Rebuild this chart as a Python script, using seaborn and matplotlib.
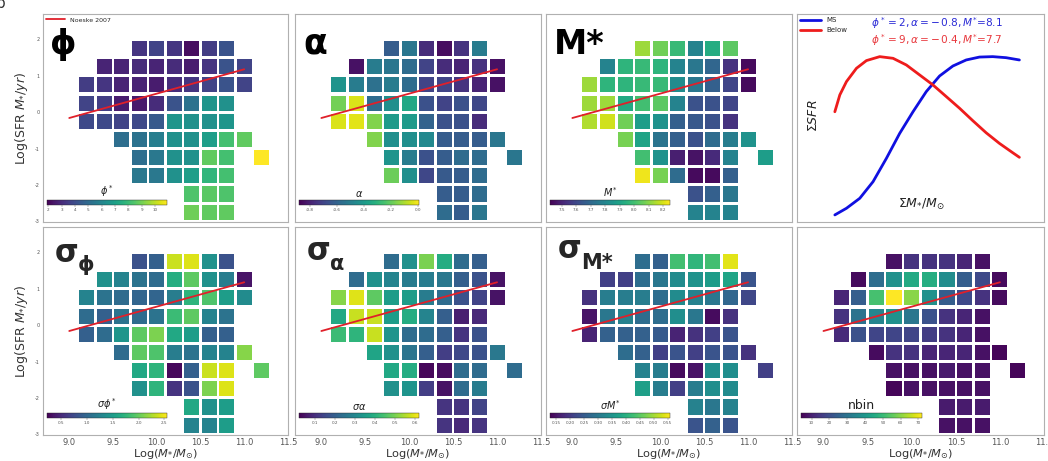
import numpy as np
import pandas as pd
import matplotlib
matplotlib.use("Agg")
import matplotlib.pyplot as plt
import seaborn as sns
from matplotlib.cm import ScalarMappable
from matplotlib.colors import Normalize

# ---------------- data ----------------
mass_bins = [9.2, 9.4, 9.6, 9.8, 10.0, 10.2, 10.4, 10.6, 10.8, 11.0, 11.2]
sfr_bins = [1.75, 1.25, 0.75, 0.25, -0.25, -0.75, -1.25, -1.75, -2.25, -2.75]
row_cols = [
    [3, 4, 5, 6, 7, 8],
    [1, 2, 3, 4, 5, 6, 7, 8, 9],
    [0, 1, 2, 3, 4, 5, 6, 7, 8, 9],
    [0, 1, 2, 3, 4, 5, 6, 7, 8],
    [0, 1, 2, 3, 4, 5, 6, 7, 8],
    [2, 3, 4, 5, 6, 7, 8, 9],
    [3, 4, 5, 6, 7, 8, 10],
    [3, 4, 5, 6, 7, 8],
    [6, 7, 8],
    [6, 7, 8],
]

phi_vals = [
    [3.3, 3.7, 3.3, 2.2, 3.5, 4.2],
    [2.8, 2.8, 3.0, 2.8, 3.0, 2.6, 3.3, 4.2, 3.7],
    [3.5, 3.3, 2.8, 2.8, 2.6, 3.0, 3.3, 3.7, 4.2, 3.7],
    [3.7, 3.5, 2.6, 2.5, 3.0, 4.2, 5.3, 6.6, 6.4],
    [3.9, 3.9, 3.7, 3.9, 4.4, 6.6, 6.4, 6.4, 6.6],
    [5.1, 5.3, 5.7, 6.4, 6.4, 6.9, 8.2, 8.7],
    [5.1, 5.5, 6.4, 6.4, 8.7, 8.2, 10.9],
    [5.5, 5.5, 6.4, 6.9, 7.8, 8.2],
    [8.4, 8.6, 8.4],
    [8.9, 8.7, 8.7],
]
alpha_vals = [
    [-0.62, -0.53, -0.77, -0.85, -0.75, -0.51],
    [-0.84, -0.51, -0.53, -0.57, -0.70, -0.77, -0.79, -0.75, -0.84],
    [-0.42, -0.51, -0.55, -0.51, -0.57, -0.70, -0.70, -0.75, -0.79, -0.84],
    [-0.18, -0.04, -0.57, -0.44, -0.35, -0.66, -0.70, -0.66, -0.69],
    [-0.04, -0.03, -0.16, -0.40, -0.40, -0.60, -0.66, -0.66, -0.77],
    [-0.16, -0.44, -0.44, -0.46, -0.62, -0.62, -0.62, -0.53],
    [-0.42, -0.51, -0.66, -0.62, -0.57, -0.57, -0.53],
    [-0.19, -0.44, -0.69, -0.63, -0.62, -0.57],
    [-0.62, -0.62, -0.57],
    [-0.57, -0.62, -0.53],
]
mstar_vals = [
    [8.13, 8.07, 7.98, 7.79, 7.93, 8.04],
    [7.79, 7.96, 7.98, 7.96, 7.79, 7.75, 7.69, 7.54, 7.44],
    [8.13, 7.96, 7.96, 7.98, 7.98, 7.82, 7.75, 7.67, 7.59, 7.44],
    [8.13, 8.13, 7.92, 8.00, 8.04, 7.79, 7.63, 7.63, 7.59],
    [8.15, 8.19, 8.07, 7.88, 7.84, 7.67, 7.65, 7.63, 7.54],
    [8.08, 7.90, 7.74, 7.67, 7.63, 7.71, 7.77, 7.84],
    [8.00, 7.84, 7.49, 7.46, 7.52, 7.79, 7.88],
    [8.23, 8.08, 7.71, 7.44, 7.44, 7.67],
    [7.63, 7.67, 7.75],
    [7.79, 7.79, 7.79],
]
sig_phi_vals = [
    [0.81, 0.93, 2.36, 2.43, 1.39, 0.81],
    [1.39, 1.27, 1.11, 1.04, 1.67, 1.97, 1.39, 1.20, 0.35],
    [1.27, 1.11, 1.04, 0.98, 0.98, 1.20, 1.74, 1.90, 1.51, 1.34],
    [1.04, 0.93, 1.11, 1.04, 1.11, 1.81, 1.97, 1.27, 1.11],
    [0.93, 1.04, 1.44, 1.97, 2.09, 1.62, 1.51, 0.93, 0.93],
    [1.04, 1.97, 1.90, 1.20, 1.11, 1.27, 1.27, 2.13],
    [1.62, 1.74, 0.28, 0.93, 2.36, 2.43, 1.97],
    [1.39, 1.74, 0.58, 0.81, 2.09, 2.43],
    [1.62, 1.39, 1.51],
    [1.27, 1.27, 1.51],
]
sig_alpha_vals = [
    [0.23, 0.32, 0.50, 0.39, 0.23, 0.20],
    [0.23, 0.32, 0.29, 0.27, 0.27, 0.26, 0.20, 0.17, 0.05],
    [0.51, 0.59, 0.47, 0.35, 0.35, 0.27, 0.23, 0.17, 0.14, 0.05],
    [0.38, 0.57, 0.57, 0.35, 0.39, 0.29, 0.20, 0.07, 0.09],
    [0.43, 0.41, 0.57, 0.33, 0.23, 0.23, 0.20, 0.11, 0.17],
    [0.37, 0.32, 0.25, 0.20, 0.13, 0.15, 0.17, 0.26],
    [0.38, 0.39, 0.03, 0.04, 0.23, 0.23, 0.23],
    [0.32, 0.33, 0.13, 0.05, 0.23, 0.27],
    [0.11, 0.11, 0.14],
    [0.11, 0.09, 0.11],
]
sig_mstar_vals = [
    [0.28, 0.26, 0.43, 0.41, 0.43, 0.54],
    [0.21, 0.21, 0.28, 0.30, 0.335, 0.35, 0.365, 0.38, 0.24],
    [0.19, 0.31, 0.31, 0.31, 0.28, 0.335, 0.32, 0.30, 0.27, 0.22],
    [0.15, 0.30, 0.32, 0.28, 0.28, 0.34, 0.30, 0.14, 0.19],
    [0.17, 0.26, 0.26, 0.26, 0.25, 0.17, 0.19, 0.21, 0.24],
    [0.28, 0.26, 0.21, 0.24, 0.21, 0.24, 0.24, 0.19],
    [0.32, 0.31, 0.14, 0.15, 0.34, 0.34, 0.21],
    [0.37, 0.31, 0.21, 0.31, 0.34, 0.335],
    [0.32, 0.30, 0.32],
    [0.24, 0.26, 0.24],
]
nbin_vals = [
    [7, 14, 14, 14, 11, 7],
    [6, 28, 38, 45, 46, 37, 24, 19, 6],
    [11, 24, 52, 72, 60, 38, 24, 19, 14, 6],
    [14, 30, 35, 38, 31, 21, 14, 11, 7],
    [12, 21, 18, 18, 18, 16, 14, 11, 7],
    [6, 14, 14, 11, 11, 11, 7, 5],
    [7, 7, 7, 9, 7, 7, 5],
    [5, 7, 7, 7, 7, 7],
    [9, 9, 9],
    [7, 7, 7],
]

noeske_mass = [9.0, 11.0]
noeske_sfr = [-0.16, 1.18]

# schematic curves (top-right panel)
ms_x = [0.0, 0.378, 0.811, 1.243, 1.676, 2.108, 2.541, 2.973, 3.405, 3.838, 4.270, 4.703, 5.135, 5.568, 6.0]
ms_y = [0.034, 0.066, 0.114, 0.194, 0.306, 0.426, 0.530, 0.627, 0.702, 0.750, 0.779, 0.793, 0.795, 0.790, 0.779]
below_x = [0.0, 0.162, 0.378, 0.703, 1.027, 1.459, 1.892, 2.324, 2.757, 3.189, 3.622, 4.054, 4.486, 4.919, 5.351, 5.784, 6.0]
below_y = [0.530, 0.611, 0.675, 0.739, 0.776, 0.795, 0.787, 0.755, 0.707, 0.659, 0.603, 0.547, 0.487, 0.429, 0.378, 0.333, 0.311]

x_ticks = [9.0, 9.5, 10.0, 10.5, 11.0, 11.5]
y_ticks = [2, 1, 0, -1, -2, -3]

# ---------------- style ----------------
sns.set_theme(style="white")
plt.rcParams["font.family"] = ["DejaVu Sans"]
plt.rcParams["mathtext.fontset"] = "dejavusans"

fig = plt.figure(figsize=(10.48, 4.61), dpi=100)
W, H = 1048.0, 461.0

cols_px = [(43, 288), (295, 541), (546, 792), (797, 1044)]
rows_px = [(14, 222), (227, 435)]


def make_ax(ci, ri):
    x0, x1 = cols_px[ci]
    y0, y1 = rows_px[ri]
    return fig.add_axes([x0 / W, 1 - y1 / H, (x1 - x0) / W, (y1 - y0) / H])


SPINE = "#b0b0b0"
RED = "#e0202a"


def style_ax(ax, show_y, show_x):
    for s in ax.spines.values():
        s.set_color(SPINE)
        s.set_linewidth(0.8)
    ax.tick_params(axis="both", direction="out", length=1.6, width=0.5,
                   colors="#888888", labelcolor="#555555")
    ax.tick_params(axis="y", labelsize=3.5, pad=1, labelleft=show_y)
    ax.tick_params(axis="x", labelsize=6, pad=0.5, labelbottom=show_x)
    ax.set_xlabel("")
    ax.set_ylabel("")


def heat_panel(ax, vals, vmin, vmax, cticks, cfmt, clabel, clabel_size,
               show_y, show_x, legend=False):
    recs = []
    for r, cols in enumerate(row_cols):
        for c, v in zip(cols, vals[r]):
            recs.append({"mass": mass_bins[c], "sfr": sfr_bins[r], "val": v})
    df = pd.DataFrame(recs)
    sns.scatterplot(data=df, x="mass", y="sfr", hue="val", palette="viridis",
                    hue_norm=(vmin, vmax), marker="s", s=118, linewidth=0,
                    legend=False, ax=ax, zorder=2)
    sns.lineplot(x=noeske_mass, y=noeske_sfr, color=RED, lw=1.3, ax=ax,
                 label="Noeske 2007" if legend else None, legend=legend, zorder=3)
    ax.set_xlim(8.7, 11.5)
    ax.set_ylim(-3.02, 2.7)
    ax.set_xticks(x_ticks)
    ax.set_xticklabels([f"{t:.1f}" for t in x_ticks])
    ax.set_yticks(y_ticks)
    ax.set_yticklabels([str(t) for t in y_ticks])
    style_ax(ax, show_y, show_x)
    if legend:
        ax.legend(loc="upper left", fontsize=4.5, frameon=False, handlelength=3,
                  borderaxespad=0.2, borderpad=0.3)
    # inset colorbar
    cax = ax.inset_axes([0.016, 0.082, 0.49, 0.024])
    sm = ScalarMappable(norm=Normalize(vmin, vmax), cmap="viridis")
    cb = fig.colorbar(sm, cax=cax, orientation="horizontal")
    cb.set_ticks(cticks)
    cb.set_ticklabels([cfmt.format(t) for t in cticks])
    cb.outline.set_linewidth(0.3)
    cax.tick_params(labelsize=3, length=1.2, width=0.3, pad=1,
                    colors="#666666", labelcolor="#555555")
    cax.text(0.5, 1.25, clabel, transform=cax.transAxes, ha="center", va="bottom",
             fontsize=clabel_size, color="#222222")
    return ax


# ---------------- top row ----------------
ax1 = make_ax(0, 0)
heat_panel(ax1, phi_vals, 1.9, 10.9, [2, 3, 4, 5, 6, 7, 8, 9, 10], "{:d}",
           r"$\phi^*$", 7, True, False, legend=True)
ax1.text(0.03, 0.935, "ϕ", transform=ax1.transAxes, fontsize=24,
         fontweight="bold", va="top", ha="left", color="black")

ax2 = make_ax(1, 0)
heat_panel(ax2, alpha_vals, -0.88, 0.01, [-0.8, -0.6, -0.4, -0.2, 0.0], "{:.1f}",
           r"$\alpha$", 7, False, False)
ax2.text(0.035, 0.94, "α", transform=ax2.transAxes, fontsize=25,
         fontweight="bold", va="top", ha="left", color="black")

ax3 = make_ax(2, 0)
heat_panel(ax3, mstar_vals, 7.42, 8.25, [7.5, 7.6, 7.7, 7.8, 7.9, 8.0, 8.1, 8.2], "{:.1f}",
           r"$M^{*}$", 7, False, False)
ax3.text(0.03, 0.935, "M*", transform=ax3.transAxes, fontsize=24,
         fontweight="bold", va="top", ha="left", color="black")

# schematic panel
ax4 = make_ax(3, 0)
sns.lineplot(x=ms_x, y=ms_y, color="#1010e0", lw=2.0, ax=ax4, label="MS")
sns.lineplot(x=below_x, y=below_y, color="#ee1c1c", lw=2.0, ax=ax4, label="Below")
ax4.set_xlim(-1.23, 6.8)
ax4.set_ylim(0, 1)
ax4.set_xticks([0, 1, 2, 3, 4, 5, 6])
ax4.set_yticks([0.15, 0.31, 0.47, 0.63, 0.79, 0.95])
style_ax(ax4, False, False)
ax4.legend(loc="upper left", fontsize=5, frameon=False, handlelength=3,
           borderaxespad=0.2, borderpad=0.3, labelspacing=0.5)
ax4.text(0.30, 0.955, r"$\phi^* = 2, \alpha = -\,0.8, M^{*}$=8.1", transform=ax4.transAxes,
         color="#2b2bd6", fontsize=7.6, ha="left", va="center")
ax4.text(0.30, 0.876, r"$\phi^* = 9, \alpha = -\,0.4, M^{*}$=7.7", transform=ax4.transAxes,
         color="#e8383d", fontsize=7.6, ha="left", va="center")
ax4.text(0.065, 0.51, r"$\Sigma SFR$", transform=ax4.transAxes, rotation=90,
         ha="center", va="center", fontsize=9, color="#222222")
ax4.text(0.504, 0.082, r"$\Sigma M_{*}/M_{\odot}$", transform=ax4.transAxes,
         ha="center", va="center", fontsize=9, color="#222222")

# ---------------- bottom row ----------------
ax5 = make_ax(0, 1)
heat_panel(ax5, sig_phi_vals, 0.23, 2.55, [0.5, 1.0, 1.5, 2.0, 2.5], "{:.1f}",
           r"$\sigma\phi^*$", 7, True, True)
ax5.text(0.049, 0.833, "σ", transform=ax5.transAxes, fontsize=22,
         fontweight="bold", va="baseline", ha="left")
ax5.text(0.14, 0.79, "ϕ", transform=ax5.transAxes, fontsize=15,
         fontweight="bold", va="baseline", ha="left")

ax6 = make_ax(1, 1)
heat_panel(ax6, sig_alpha_vals, 0.02, 0.62, [0.1, 0.2, 0.3, 0.4, 0.5, 0.6], "{:.1f}",
           r"$\sigma\alpha$", 7, False, True)
ax6.text(0.049, 0.843, "σ", transform=ax6.transAxes, fontsize=22,
         fontweight="bold", va="baseline", ha="left")
ax6.text(0.142, 0.795, "α", transform=ax6.transAxes, fontsize=15,
         fontweight="bold", va="baseline", ha="left")

ax7 = make_ax(2, 1)
heat_panel(ax7, sig_mstar_vals, 0.128, 0.56,
           [0.15, 0.20, 0.25, 0.30, 0.35, 0.40, 0.45, 0.50, 0.55], "{:.2f}",
           r"$\sigma M^{*}$", 7, False, True)
ax7.text(0.049, 0.852, "σ", transform=ax7.transAxes, fontsize=22,
         fontweight="bold", va="baseline", ha="left")
ax7.text(0.142, 0.80, "M*", transform=ax7.transAxes, fontsize=15,
         fontweight="bold", va="baseline", ha="left")

ax8 = make_ax(3, 1)
heat_panel(ax8, nbin_vals, 4, 72, [10, 20, 30, 40, 50, 60, 70], "{:d}",
           "nbin", 9, False, True)

# x-axis labels: placed so they sit at the very bottom of the figure
for ci in range(4):
    x0, x1 = cols_px[ci]
    fig.text((x0 + x1) / 2 / W, 0.5 / H, r"Log($M_{*}/M_{\odot}$)", fontsize=8.2,
             ha="center", va="bottom", color="#333333")
for ax in (ax1, ax5):
    ax.set_ylabel(r"Log(SFR $M_{*}/yr$)", fontsize=9, labelpad=3, color="#333333")

fig.text(-0.004, 1.008, "b", fontsize=11, ha="left", va="top", color="#333333")

fig.savefig("out.png", dpi=100)
